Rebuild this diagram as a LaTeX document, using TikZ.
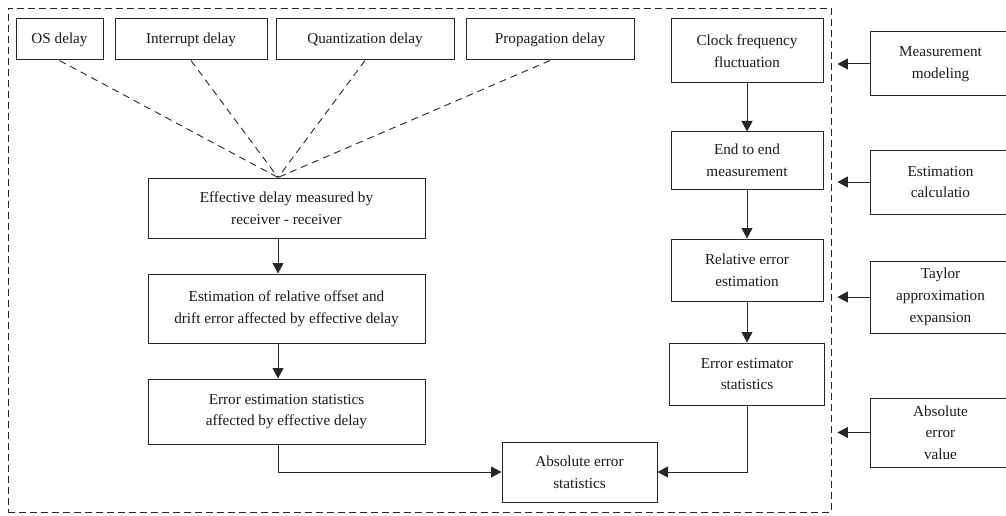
\documentclass[tikz,border=0pt]{standalone}
\usepackage{fontspec}
\setmainfont{Liberation Serif}
\usepackage{tikz}
\usetikzlibrary{arrows.meta, positioning, fit}
\definecolor{linec}{HTML}{262626}

\begin{document}
\begin{tikzpicture}[
  x=1pt, y=-1pt,
  box/.style={draw=linec, line width=1pt, align=center, inner sep=2pt,
    text=black!90, font=\fontsize{15.2}{21.7}\selectfont},
  arr/.style={-{Triangle[length=10.5pt, width=11pt]}, line width=1pt, linec},
  feed/.style={dash pattern=on 7pt off 5pt, line width=0.9pt, linec},
  frame/.style={draw=linec, dash pattern=on 7pt off 4pt, line width=0.9pt, inner sep=0pt}
]
\clip (0,0) rectangle (1006,516);

% delay sources
\node[box, minimum width=87pt, minimum height=41pt] (os) at (59.5,39.5) {OS delay};
\node[box, minimum width=152pt, minimum height=41pt, right=11pt of os] (intr) {Interrupt delay};
\node[box, minimum width=178pt, minimum height=41pt, right=8pt of intr] (quant) {Quantization delay};
\node[box, minimum width=168pt, minimum height=41pt, right=11pt of quant] (prop) {Propagation delay};

% left chain
\node[box, minimum width=277pt, minimum height=60pt] (eff) at (286.5,208) {Effective delay measured by\\receiver - receiver};
\node[box, minimum width=277pt, minimum height=69pt, below=35pt of eff] (est) {Estimation of relative offset and\\drift error affected by effective delay};
\node[box, minimum width=277pt, minimum height=65pt, below=35pt of est] (stat) {Error estimation statistics\\affected by effective delay};

% right chain
\node[box, minimum width=152pt, minimum height=64pt, anchor=north west] (clock) at ([xshift=36pt]prop.north east) {Clock frequency\\fluctuation};
\node[box, minimum width=152pt, minimum height=57pt, below=48pt of clock] (e2e) {End to end\\measurement};
\node[box, minimum width=152pt, minimum height=62pt, below=49pt of e2e] (rel) {Relative error\\estimation};
\node[box, minimum width=155pt, minimum height=62pt, below=41pt of rel] (estim) {Error estimator\\statistics};

\node[box, minimum width=155pt, minimum height=60pt] (abs) at (579.5,472) {Absolute error\\statistics};

% dashed frame
\coordinate (fnw) at (8,8);
\coordinate (fse) at (831,512);
\node[frame, fit=(fnw)(fse)] (fr) {};

% method boxes
\node[box, minimum width=140pt, minimum height=64pt, anchor=west] (meas) at (870,64) {Measurement\\modeling};
\node[box, minimum width=140pt, minimum height=64pt, anchor=west] (calc) at (870,182) {Estimation\\calculatio};
\node[box, minimum width=140pt, minimum height=72pt, anchor=west] (taylor) at (870,297) {Taylor\\approximation\\expansion};
\node[box, minimum width=140pt, minimum height=69pt, anchor=west] (absval) at (870,432.5) {Absolute\\error\\value};

\foreach \src in {os, intr, quant, prop}
  \draw[feed] (\src.south) -- ([xshift=-8.5pt]eff.north);

\draw[arr] ([xshift=-8.5pt]eff.south) -- ([xshift=-8.5pt]est.north);
\draw[arr] ([xshift=-8.5pt]est.south) -- ([xshift=-8.5pt]stat.north);
\draw[arr] ([xshift=-8.5pt]stat.south) |- (abs.west);

\draw[arr] (clock) -- (e2e);
\draw[arr] (e2e) -- (rel);
\draw[arr] (rel) -- (estim);
\draw[arr] (estim.south) |- (abs.east);

\foreach \m in {meas, calc, taylor, absval}
  \draw[arr, shorten >=6pt] (\m.west) -- (\m.west -| fr.east);
\end{tikzpicture}
\end{document}
